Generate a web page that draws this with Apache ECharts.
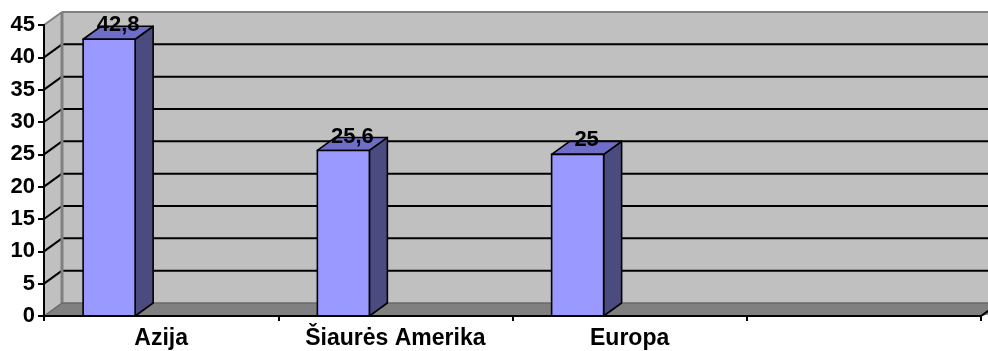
<!DOCTYPE html>
<html><head><meta charset="utf-8">
<script src="https://cdn.jsdelivr.net/npm/echarts@6/dist/echarts.min.js"></script>
<style>html,body{margin:0;padding:0;background:#fff}#c{width:988px;height:351px}</style>
</head><body><div id="c"></div>
<script>
// ---- data ----
const categories = ['Azija', 'Šiaurės Amerika', 'Europa', ''];
const values = [42.8, 25.6, 25, null];
const yMin = 0, yMax = 45, yStep = 5;

// ---- style constants ----
const DX = 18, DY = -13;           // 3D depth offset
const FONT = 'Liberation Sans, Arial, sans-serif';
const FRONT = '#9999FF', TOP = '#6E6EC8', SIDE = '#4B4B80';
const WALL = '#C0C0C0', FLOOR = '#808080', EDGE = '#808080';

const chart = echarts.init(document.getElementById('c'), null, {renderer: 'canvas'});

function wallsRender(params, api) {
  const cs = params.coordSys;
  const x0 = cs.x, x1 = cs.x + cs.width, yT = cs.y, yB = cs.y + cs.height;
  const xe = x1 + DX + 60;
  const ch = [];
  ch.push({type: 'rect', shape: {x: x0 + DX, y: yT + DY, width: xe - x0 - DX, height: yB - yT}, style: {fill: WALL}});
  ch.push({type: 'polygon', shape: {points: [[x0, yT], [x0 + DX, yT + DY], [x0 + DX, yB + DY], [x0, yB]]}, style: {fill: WALL}});
  ch.push({type: 'polygon', shape: {points: [[x0, yB], [x0 + DX, yB + DY], [xe, yB + DY], [x1, yB]]}, style: {fill: FLOOR}});
  for (let v = yMin + yStep; v < yMax; v += yStep) {
    const y = api.coord([0, v])[1];
    ch.push({type: 'line', shape: {x1: x0 + DX, y1: y + DY, x2: xe, y2: y + DY}, style: {stroke: '#000', lineWidth: 2}});
    ch.push({type: 'line', shape: {x1: x0, y1: y, x2: x0 + DX, y2: y + DY}, style: {stroke: '#000', lineWidth: 2}});
  }
  ch.push({type: 'line', shape: {x1: x0 + DX, y1: yT + DY, x2: xe, y2: yT + DY}, style: {stroke: EDGE, lineWidth: 2}});
  ch.push({type: 'line', shape: {x1: x0, y1: yT, x2: x0 + DX, y2: yT + DY}, style: {stroke: EDGE, lineWidth: 2}});
  ch.push({type: 'line', shape: {x1: x0 + DX, y1: yT + DY, x2: x0 + DX, y2: yB + DY}, style: {stroke: EDGE, lineWidth: 3}});
  ch.push({type: 'line', shape: {x1: x0 + DX, y1: yB + DY, x2: xe, y2: yB + DY}, style: {stroke: '#6a6a6a', lineWidth: 1.5}});
  ch.push({type: 'line', shape: {x1: x0, y1: yB, x2: x0 + DX, y2: yB + DY}, style: {stroke: '#6a6a6a', lineWidth: 1.5}});
  ch.push({type: 'line', shape: {x1: x1, y1: yB, x2: x1 + DX, y2: yB + DY}, style: {stroke: '#000', lineWidth: 2}});
  return {type: 'group', children: ch};
}

function barRender(params, api) {
  const v = api.value(1);
  if (v == null || isNaN(v)) return;
  const idx = api.value(0);
  const c = api.coord([idx, v]);
  const b = api.coord([idx, 0]);
  const bw = api.size([1, 0])[0];
  const left = c[0] - 0.333 * bw, w = 0.222 * bw;
  const top = c[1], bot = b[1], r = left + w;
  const label = String(v).replace('.', ',');
  return {type: 'group', children: [
    {type: 'polygon', shape: {points: [[r, top], [r + DX, top + DY], [r + DX, bot + DY], [r, bot]]},
     style: {fill: SIDE, stroke: '#000', lineWidth: 1.6, lineJoin: 'round'}},
    {type: 'polygon', shape: {points: [[left, top], [left + DX, top + DY], [r + DX, top + DY], [r, top]]},
     style: {fill: TOP, stroke: '#000', lineWidth: 1.6, lineJoin: 'round'}},
    {type: 'rect', shape: {x: left, y: top, width: w, height: bot - top},
     style: {fill: FRONT, stroke: '#000', lineWidth: 1.6}},
    {type: 'text', x: left + w / 2 + DX / 2, y: top - 14,
     style: {text: label, fill: '#000', font: 'bold 22px ' + FONT, align: 'center', verticalAlign: 'middle'}}
  ]};
}

chart.setOption({
  animation: false,
  grid: {left: 44, right: 7, top: 25, bottom: 35, containLabel: false},
  xAxis: {
    type: 'category', data: categories, boundaryGap: true, z: 10,
    axisLine: {show: true, lineStyle: {color: '#000', width: 2}},
    axisTick: {show: true, length: 5, lineStyle: {color: '#000', width: 2}},
    axisLabel: {interval: 0, margin: 11, color: '#000', fontSize: 23, fontWeight: 'bold', fontFamily: FONT},
    splitLine: {show: false}
  },
  yAxis: {
    type: 'value', min: yMin, max: yMax, interval: yStep, z: 10,
    axisLine: {show: true, lineStyle: {color: '#000', width: 2}},
    axisTick: {show: true, length: 6, lineStyle: {color: '#000', width: 2}},
    axisLabel: {margin: 9, color: '#000', fontSize: 22, fontWeight: 'bold', fontFamily: FONT},
    splitLine: {show: false}
  },
  series: [
    {type: 'custom', z: 1, clip: false, silent: true, renderItem: wallsRender, data: [[0, 0]]},
    {type: 'custom', z: 3, clip: false, renderItem: barRender,
     data: categories.map((c, i) => [i, values[i]])}
  ]
});
</script></body></html>
